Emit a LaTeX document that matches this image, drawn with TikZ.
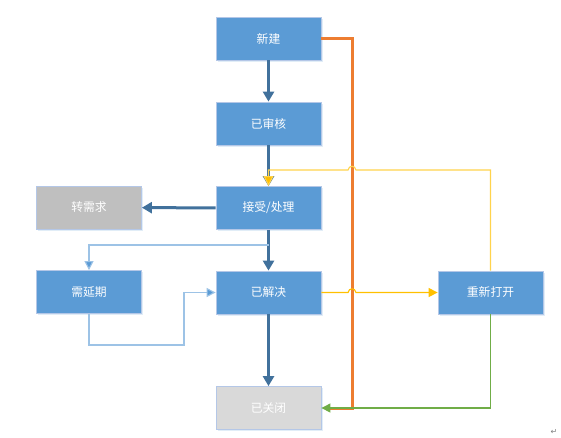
\documentclass[tikz,border=0pt]{standalone}
\usepackage{fontspec}
\setmainfont{Noto Sans CJK SC}
\newfontfamily\symfont{DejaVu Sans}
\usetikzlibrary{arrows.meta, shadows}
\definecolor{mBlue}{HTML}{5B9BD5}
\definecolor{mEdge}{HTML}{B4C7E7}
\definecolor{mDark}{HTML}{41719C}
\definecolor{mGrey}{HTML}{BFBFBF}
\definecolor{mPale}{HTML}{D9D9D9}
\definecolor{mOrange}{HTML}{ED7D31}
\definecolor{mYellow}{HTML}{FFC000}
\definecolor{mGreen}{HTML}{70AD47}
\definecolor{mSky}{HTML}{9DC3E6}

\begin{document}
\begin{tikzpicture}[x=1pt, y=-1pt,
  state/.style={draw=mEdge, line width=0.8pt, fill=mBlue, minimum width=105pt,
                minimum height=43pt, inner sep=0pt, text=white,
                font=\fontsize{11.8}{13}\selectfont,
                drop shadow={opacity=0.18, shadow xshift=1.5pt, shadow yshift=-1.5pt, fill=mBlue}},
  main/.style={draw=mDark, line width=3pt, -{Triangle[length=10pt, width=11pt]}},
  thinline/.style={line width=1.1pt, -{Triangle[length=9pt, width=9pt]}},
]
  \useasboundingbox (0,0) rectangle (561,437);

  % states
  \node[state] (new)    at (268.5, 38.5) {新建};
  \node[state] (audit)  at (268.5,123.5) {已审核};
  \node[state] (accept) at (268.5,208)   {接受/处理};
  \node[state, fill=mGrey] (req) at (89,207.5) {转需求};
  \node[state] (delay)  at (89,292)      {需延期};
  \node[state] (solved) at (268.5,292.5) {已解决};
  \node[state] (reopen) at (490.5,292.5) {重新打开};
  \node[state, fill=mPale] (closed) at (268.5,408) {已关闭};

  % main flow
  \draw[main] (new) -- (audit);
  \draw[main] (audit) -- (accept);
  \draw[main] (accept) -- (req);
  \draw[main] (accept) -- (solved);
  \draw[main] (solved) -- (closed);

  % delay loop
  \coordinate (split) at (268.5,245);
  \coordinate (back)  at (184,345);
  \draw[thinline, draw=mSky, arrows={-{Triangle[length=9pt, width=9pt, fill=mBlue]}}] (split) -| (delay);
  \draw[thinline, draw=mSky, arrows={-{Triangle[length=9pt, width=9pt, fill=mBlue]}}] (delay) |- (back) |- (solved);

  % close directly
  \coordinate (drop) at (352,408);
  \draw[mOrange, line width=3pt, shorten >=9pt] (new) -| (drop) -- (closed);

  % reopen
  \coordinate (hopA) at (356,170);
  \coordinate (hopB) at (348,170);
  \draw[thinline, draw=mYellow!70!white, arrows={-{Triangle[length=10pt, width=10pt, fill=mYellow]}}]
    (reopen) |- (hopA) .. controls (355,165) and (349,165) .. (hopB) -| (accept);
  \coordinate (hopC) at (348,292.5);
  \coordinate (hopD) at (356,292.5);
  \draw[thinline, draw=mYellow, mYellow]
    (solved) -- (hopC) .. controls (349,287.5) and (355,287.5) .. (hopD) -- (reopen);
  \draw[thinline, draw=mGreen, mGreen] (reopen) |- (closed);

  \node[text=gray, font=\symfont\fontsize{8}{8}\selectfont] (mark) at (554,432) {↵};
\end{tikzpicture}
\end{document}
